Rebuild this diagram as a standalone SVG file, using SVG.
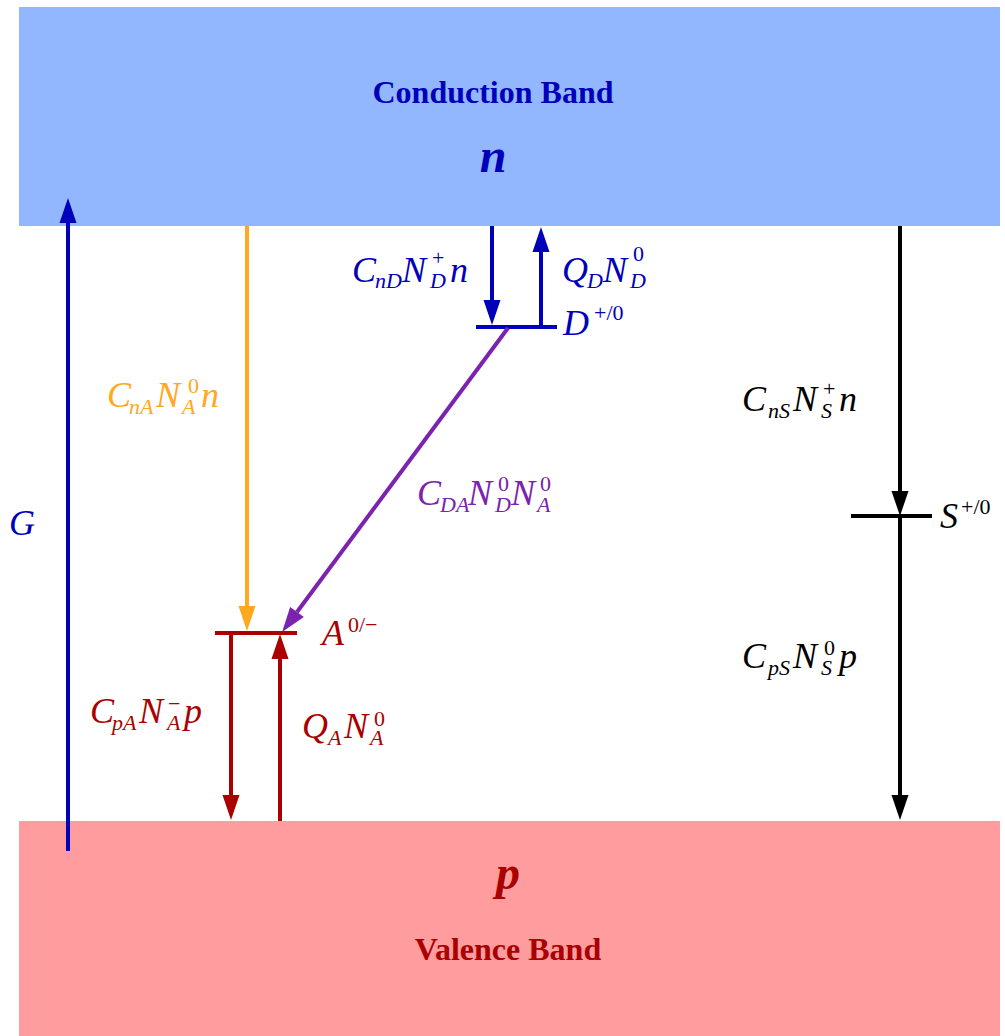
<svg xmlns="http://www.w3.org/2000/svg" width="1005" height="1036" viewBox="0 0 1005 1036">
<style>
.lbl{font-family:"Liberation Serif","Times New Roman",serif;font-style:italic;font-size:36px}
.s{font-size:22px}
.u{font-size:22px;font-style:normal}
.band{font-family:"Liberation Serif","Times New Roman",serif;font-weight:bold;font-size:32px;text-anchor:middle}
.carrier{font-family:"Liberation Serif","Times New Roman",serif;font-weight:bold;font-style:italic;font-size:48px;text-anchor:middle}
.ln{fill:none;stroke-width:4}
.blue{fill:#0000BB}.orange{fill:#FFA820}.purple{fill:#7B22AE}.red{fill:#AA0000}.black{fill:#000}
</style>
<defs>
<marker id="hb" markerUnits="userSpaceOnUse" markerWidth="26" markerHeight="18" refX="0" refY="8.5" orient="auto" overflow="visible"><path d="M0,0 L25,8.5 L0,17 Z" fill="#0000BB"/></marker>
<marker id="ho" markerUnits="userSpaceOnUse" markerWidth="26" markerHeight="18" refX="0" refY="8.5" orient="auto" overflow="visible"><path d="M0,0 L25,8.5 L0,17 Z" fill="#FFA820"/></marker>
<marker id="hp" markerUnits="userSpaceOnUse" markerWidth="26" markerHeight="18" refX="0" refY="8.5" orient="auto" overflow="visible"><path d="M0,0 L25,8.5 L0,17 Z" fill="#7B22AE"/></marker>
<marker id="hr" markerUnits="userSpaceOnUse" markerWidth="26" markerHeight="18" refX="0" refY="8.5" orient="auto" overflow="visible"><path d="M0,0 L25,8.5 L0,17 Z" fill="#AA0000"/></marker>
<marker id="hk" markerUnits="userSpaceOnUse" markerWidth="26" markerHeight="18" refX="0" refY="8.5" orient="auto" overflow="visible"><path d="M0,0 L25,8.5 L0,17 Z" fill="#000"/></marker>
</defs>
<rect width="1005" height="1036" fill="#fff"/>
<g id="conduction-band">
<rect x="19" y="7" width="981" height="219" fill="#92B7FF"/>
<text class="band blue" x="493" y="103">Conduction Band</text>
<text class="carrier blue" x="493" y="172">n</text>
</g>
<g id="valence-band">
<rect x="19" y="821" width="981" height="215" fill="#FF9C9E"/>
<text class="carrier red" x="508" y="889">p</text>
<text class="band red" x="508" y="960">Valence Band</text>
</g>
<g id="donor-level">
<line class="ln" x1="476" y1="327" x2="557" y2="327" stroke="#0000BB"/>
<text class="lbl blue"><tspan x="563" y="335">D</tspan><tspan class="u" x="594" y="320">+/0</tspan></text>
</g>
<g id="acceptor-level">
<line class="ln" x1="215" y1="633" x2="297" y2="633" stroke="#AA0000"/>
<text class="lbl red"><tspan x="322" y="645">A</tspan><tspan class="u" x="348" y="632">0/−</tspan></text>
</g>
<g id="s-level">
<line class="ln" x1="851" y1="516" x2="932" y2="516" stroke="#000"/>
<text class="lbl black"><tspan x="940" y="528">S</tspan><tspan class="u" x="961" y="514">+/0</tspan></text>
</g>
<g id="connectors">
<line class="ln" x1="68" y1="851" x2="68" y2="223" stroke="#0000BB" marker-end="url(#hb)"/>
<line class="ln" x1="247" y1="226" x2="247" y2="606" stroke="#FFA820" marker-end="url(#ho)"/>
<line class="ln" x1="508" y1="328" x2="297" y2="612" stroke="#7B22AE" marker-end="url(#hp)"/>
<line class="ln" x1="492" y1="226" x2="492" y2="300" stroke="#0000BB" marker-end="url(#hb)"/>
<line class="ln" x1="541" y1="327" x2="541" y2="252" stroke="#0000BB" marker-end="url(#hb)"/>
<line class="ln" x1="231" y1="633" x2="231" y2="795" stroke="#AA0000" marker-end="url(#hr)"/>
<line class="ln" x1="280" y1="821" x2="280" y2="659" stroke="#AA0000" marker-end="url(#hr)"/>
<line class="ln" x1="900" y1="226" x2="900" y2="491" stroke="#000" marker-end="url(#hk)"/>
<line class="ln" x1="900" y1="516" x2="900" y2="795" stroke="#000" marker-end="url(#hk)"/>
</g>
<g id="rate-labels">
<text class="lbl blue"><tspan x="352" y="282">C</tspan><tspan class="s" x="375" y="288">nD</tspan><tspan x="402" y="282">N</tspan><tspan class="s" x="430" y="288">D</tspan><tspan class="u" x="432" y="265">+</tspan><tspan x="450" y="282">n</tspan></text>
<text class="lbl blue"><tspan x="562" y="282">Q</tspan><tspan class="s" x="587" y="288">D</tspan><tspan x="603" y="282">N</tspan><tspan class="s" x="630" y="288">D</tspan><tspan class="u" x="633" y="261">0</tspan></text>
<text class="lbl orange"><tspan x="107" y="407">C</tspan><tspan class="s" x="129" y="414">nA</tspan><tspan x="156" y="407">N</tspan><tspan class="s" x="182" y="414">A</tspan><tspan class="u" x="188" y="393">0</tspan><tspan x="201" y="407">n</tspan></text>
<text class="lbl purple"><tspan x="417" y="505">C</tspan><tspan class="s" x="440" y="512">DA</tspan><tspan x="468" y="505">N</tspan><tspan class="s" x="495" y="512">D</tspan><tspan class="u" x="498" y="491">0</tspan><tspan x="511" y="505">N</tspan><tspan class="s" x="537" y="512">A</tspan><tspan class="u" x="540" y="491">0</tspan></text>
<text class="lbl red"><tspan x="302" y="738">Q</tspan><tspan class="s" x="328" y="745">A</tspan><tspan x="344" y="738">N</tspan><tspan class="s" x="370" y="745">A</tspan><tspan class="u" x="374" y="726">0</tspan></text>
<text class="lbl red"><tspan x="90" y="723">C</tspan><tspan class="s" x="112" y="730">pA</tspan><tspan x="139" y="723">N</tspan><tspan class="s" x="167" y="730">A</tspan><tspan class="u" x="168" y="711">−</tspan><tspan x="184" y="723">p</tspan></text>
<text class="lbl black"><tspan x="742" y="411">C</tspan><tspan class="s" x="768" y="418">nS</tspan><tspan x="793" y="411">N</tspan><tspan class="s" x="821" y="418">S</tspan><tspan class="u" x="823" y="396">+</tspan><tspan x="839" y="411">n</tspan></text>
<text class="lbl black"><tspan x="742" y="668">C</tspan><tspan class="s" x="768" y="675">pS</tspan><tspan x="793" y="668">N</tspan><tspan class="s" x="821" y="675">S</tspan><tspan class="u" x="824" y="655">0</tspan><tspan x="839" y="668">p</tspan></text>
<text class="lbl blue" x="9" y="535">G</text>
</g>
</svg>
